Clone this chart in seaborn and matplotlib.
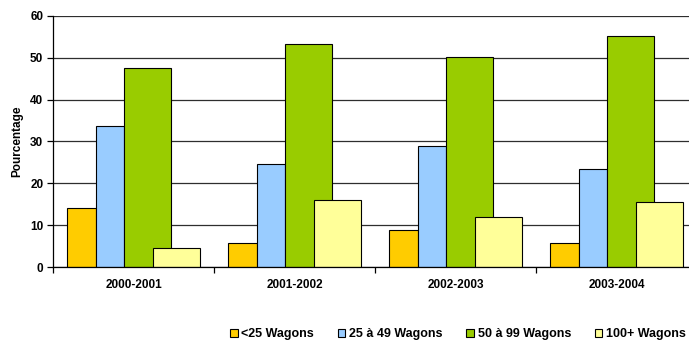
import matplotlib
matplotlib.use("Agg")
import matplotlib.pyplot as plt
from matplotlib.patches import Patch
from matplotlib.ticker import FixedLocator
import pandas as pd
import seaborn as sns

# Data
periods = ["2000-2001", "2001-2002", "2002-2003", "2003-2004"]
series = ["<25 Wagons", "25 à 49 Wagons", "50 à 99 Wagons", "100+ Wagons"]
under_25 = [14.2, 5.7, 8.8, 5.7]
from_25_to_49 = [33.6, 24.7, 29.0, 23.4]
from_50_to_99 = [47.5, 53.3, 50.2, 55.2]
over_100 = [4.5, 16.0, 12.0, 15.6]
y_ticks = [0, 10, 20, 30, 40, 50, 60]

colors = ["#FFCC00", "#99CCFF", "#99CC00", "#FFFF99"]
# left offset and width of each series' bar within a category slot
bar_geom = [(-0.41, 0.175), (-0.235, 0.178), (-0.057, 0.29), (0.12, 0.292)]

df = pd.DataFrame({
    "period": periods * 4,
    "series": [s for s in series for _ in periods],
    "value": under_25 + from_25_to_49 + from_50_to_99 + over_100,
})

sns.set_theme(style="white")
plt.rcParams["font.family"] = ["Liberation Sans", "DejaVu Sans"]
plt.rcParams["font.weight"] = "bold"
plt.rcParams["text.color"] = "black"
plt.rcParams["xtick.color"] = "black"
plt.rcParams["ytick.color"] = "black"
plt.rcParams["axes.labelcolor"] = "black"

fig = plt.figure(figsize=(6.89, 3.43), dpi=100)
ax = fig.add_axes([53 / 689, 76 / 343, 644 / 689, 251 / 343])

sns.barplot(data=df, x="period", y="value", hue="series", order=periods,
            hue_order=series, palette=colors, edgecolor="black", linewidth=0.8,
            saturation=1, legend=False, ax=ax, zorder=2)

for cont, (left, width) in zip(ax.containers, bar_geom):
    for j, bar in enumerate(cont.patches):
        bar.set_x(j + left)
        bar.set_width(width)

ax.set_xlim(-0.5, 3.5)
ax.set_ylim(0, 60)
ax.set_yticks(y_ticks)
ax.yaxis.grid(True, color="#2e2e2e", linewidth=0.9, zorder=0)
ax.set_axisbelow(True)

for side in ["top", "right"]:
    ax.spines[side].set_visible(False)
for side in ["left", "bottom"]:
    ax.spines[side].set_color("black")
    ax.spines[side].set_linewidth(0.9)

ax.xaxis.set_minor_locator(FixedLocator([-0.5, 0.5, 1.5, 2.5, 3.5]))
ax.tick_params(axis="x", which="major", length=0, pad=9, labelsize=8.5)
ax.tick_params(axis="x", which="minor", length=4, width=0.9, color="black", direction="out", bottom=True)
ax.tick_params(axis="y", which="major", length=4, width=0.9, color="black", direction="out", left=True, labelsize=8.5, pad=3)
for lbl in ax.get_xticklabels() + ax.get_yticklabels():
    lbl.set_fontweight("bold")

ax.set_xlabel("")
ax.set_ylabel("Pourcentage", fontsize=8.5, fontweight="bold", labelpad=5)

handles = [Patch(facecolor=c, edgecolor="black", linewidth=0.8) for c in colors]
fig.legend(handles, series, loc="center", bbox_to_anchor=(458 / 689, 1 - 334 / 343),
           ncol=4, frameon=False, prop={"size": 9, "weight": "bold"},
           handlelength=0.6, handleheight=0.6, handletextpad=0.3, columnspacing=1.9,
           borderpad=0, borderaxespad=0)

fig.savefig("out.png", dpi=100)
